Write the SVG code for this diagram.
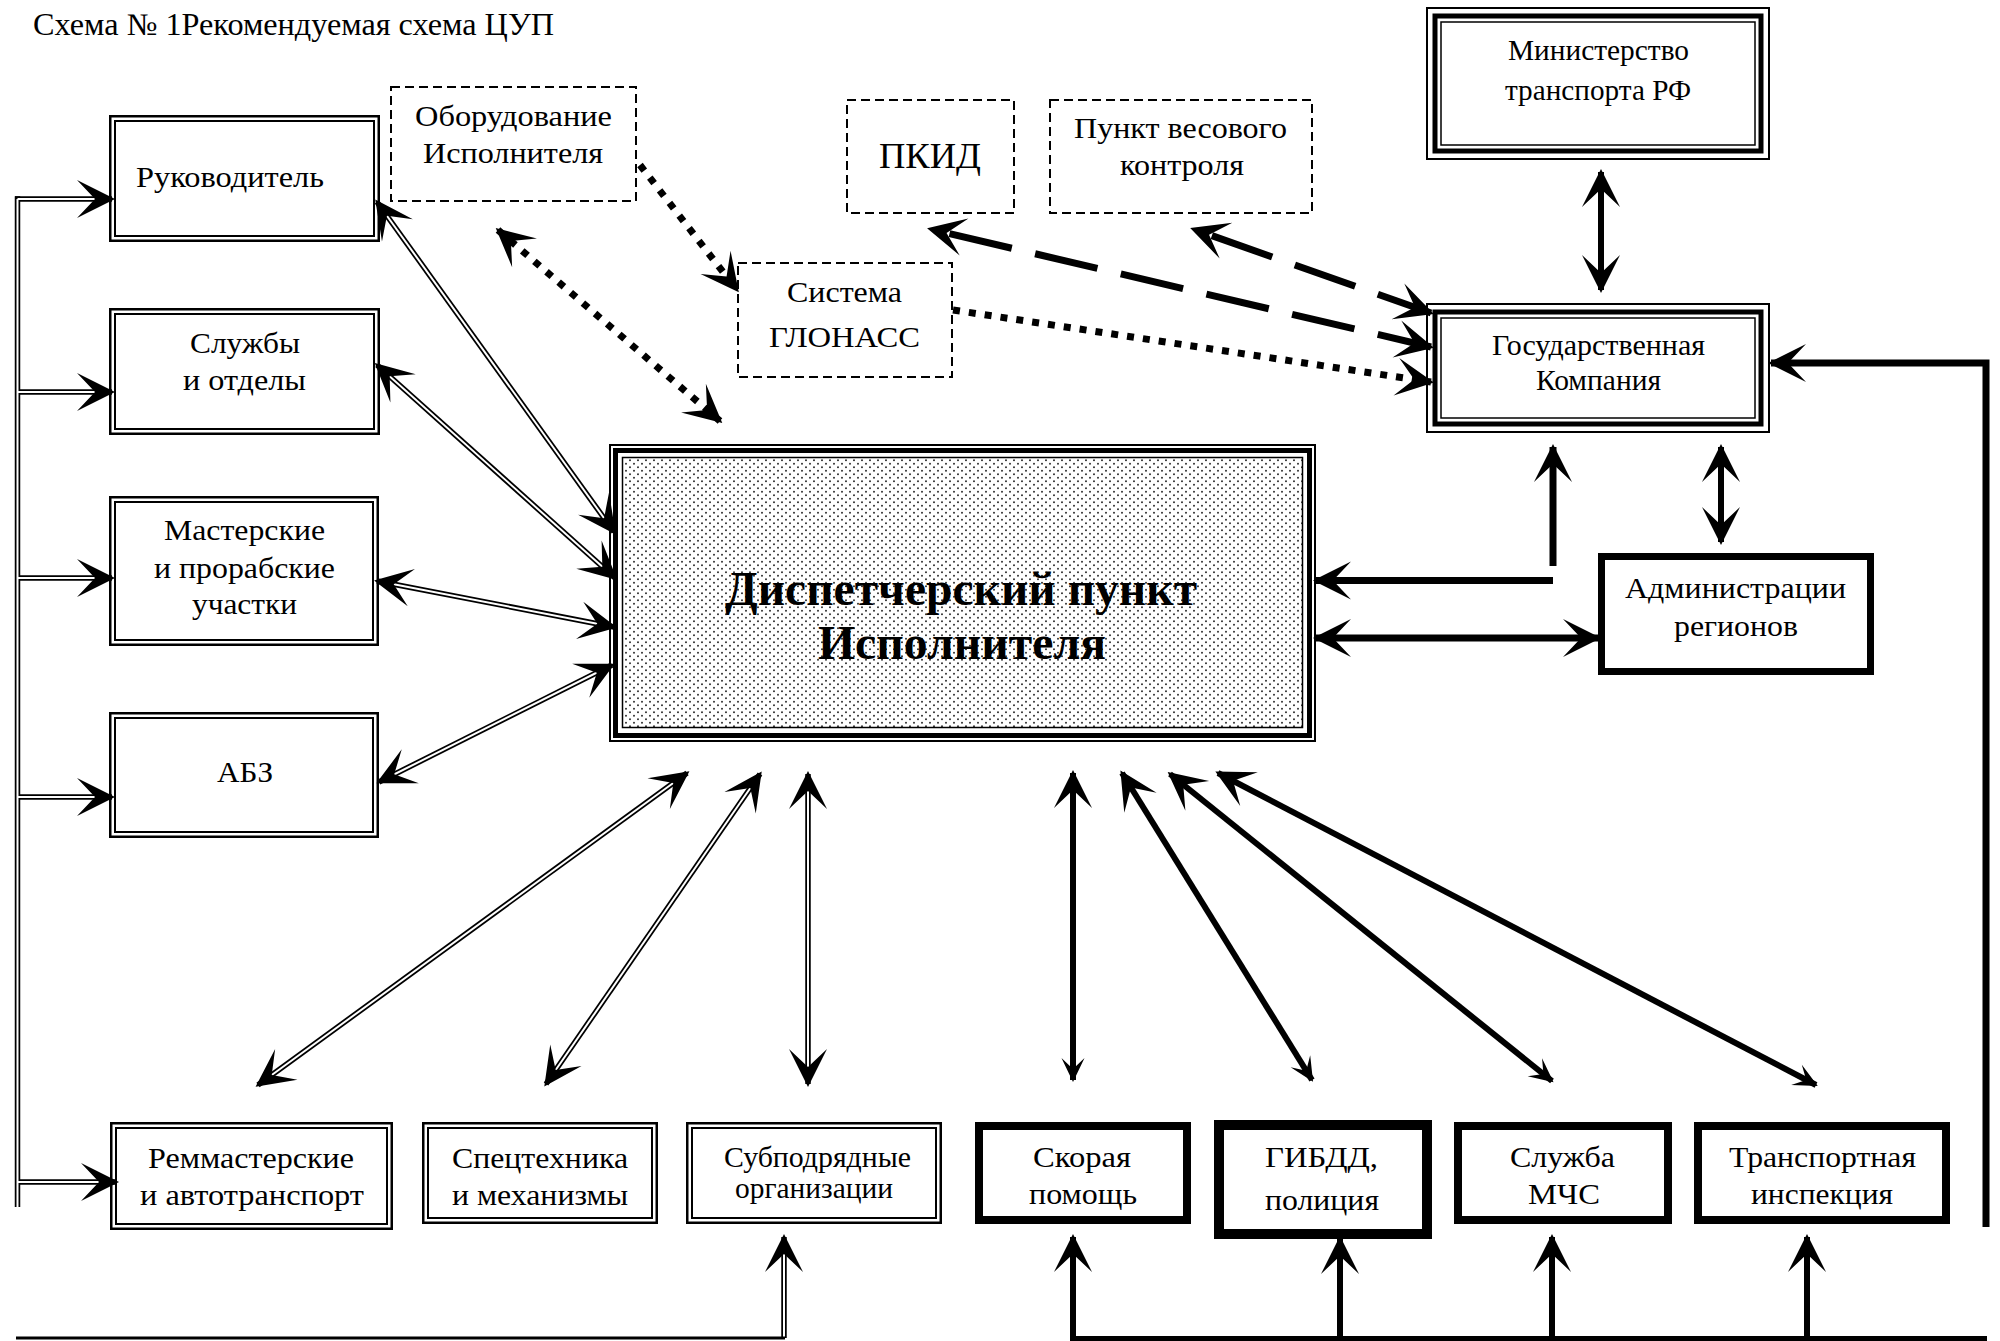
<svg xmlns="http://www.w3.org/2000/svg" width="2000" height="1341" viewBox="0 0 2000 1341">
<defs>
<style>
text { font-family: "Liberation Serif", "Times New Roman", serif; fill:#000; }
.t { font-size:30px; text-anchor:middle; }
.b2o { fill:#fff; stroke:#000; stroke-width:2.5; }
.b2i { fill:none; stroke:#000; stroke-width:2; }
.dsh { fill:#fff; stroke:#000; stroke-width:2; stroke-dasharray:9 5; }
.thk { fill:#fff; stroke:#000; stroke-width:8; }
.tb1 { fill:#fff; stroke:#000; stroke-width:2; }
.tb2 { fill:none; stroke:#000; stroke-width:5; }
.tb3 { fill:none; stroke:#000; stroke-width:1.5; }
.dbk { fill:none; stroke:#000; stroke-width:5.5; }
.dwh { fill:none; stroke:#fff; stroke-width:2; }
.sol { fill:none; stroke:#000; stroke-width:6; }
.sol7 { fill:none; stroke:#000; stroke-width:7; }
.dot { fill:none; stroke:#000; stroke-width:7; stroke-dasharray:7 9; }
.lds { fill:none; stroke:#000; stroke-width:7; stroke-dasharray:64 24; stroke-dashoffset:-20; }
</style>
<pattern id="dots" width="8" height="7" patternUnits="userSpaceOnUse">
<rect width="8" height="7" fill="#fff"/>
<circle cx="2" cy="1.75" r="0.95" fill="#222"/>
<circle cx="6" cy="5.25" r="0.95" fill="#222"/>
</pattern>
<marker id="ah" viewBox="-40 -25 50 50" markerWidth="50" markerHeight="50" refX="0" refY="0" markerUnits="userSpaceOnUse" orient="auto-start-reverse">
<path d="M3,0 L-35,-19 L-17,0 L-35,19 Z" fill="#000"/>
</marker>
<marker id="ahs" viewBox="-30 -15 40 30" markerWidth="40" markerHeight="30" refX="0" refY="0" markerUnits="userSpaceOnUse" orient="auto-start-reverse">
<path d="M2,0 L-22,-11.5 L-11,0 L-22,11.5 Z" fill="#000"/>
</marker>
</defs>
<rect width="2000" height="1341" fill="#fff"/>

<text x="33" y="35" font-size="31" textLength="521" lengthAdjust="spacingAndGlyphs">Схема № 1Рекомендуемая схема ЦУП</text>

<g id="nodes">
<g id="rukovoditel">
<rect class="b2o" x="110.25" y="116.25" width="268.5" height="124.5"/>
<rect class="b2i" x="115" y="121" width="259" height="115"/>
<text class="t" x="230" y="187" textLength="188" lengthAdjust="spacingAndGlyphs">Руководитель</text>
</g>
<g id="sluzhby">
<rect class="b2o" x="110.25" y="309.25" width="268.5" height="124.5"/>
<rect class="b2i" x="115" y="314" width="259" height="115"/>
<text class="t" x="245" y="353" textLength="110" lengthAdjust="spacingAndGlyphs">Службы</text>
<text class="t" x="244.5" y="390" textLength="123" lengthAdjust="spacingAndGlyphs">и отделы</text>
</g>
<g id="masterskie">
<rect class="b2o" x="110.25" y="497.25" width="267.5" height="147.5"/>
<rect class="b2i" x="115" y="502" width="258" height="138"/>
<text class="t" x="244.5" y="540" textLength="161" lengthAdjust="spacingAndGlyphs">Мастерские</text>
<text class="t" x="244.5" y="578" textLength="181" lengthAdjust="spacingAndGlyphs">и прорабские</text>
<text class="t" x="244.5" y="614" textLength="105" lengthAdjust="spacingAndGlyphs">участки</text>
</g>
<g id="abz">
<rect class="b2o" x="110.25" y="713.25" width="267.5" height="123.5"/>
<rect class="b2i" x="115" y="718" width="258" height="114"/>
<text class="t" x="245" y="782" textLength="56" lengthAdjust="spacingAndGlyphs">АБЗ</text>
</g>
<g id="oborudovanie">
<rect class="dsh" x="391" y="87" width="245" height="114"/>
<text class="t" x="513.5" y="126" textLength="197" lengthAdjust="spacingAndGlyphs">Оборудование</text>
<text class="t" x="513" y="163" textLength="180" lengthAdjust="spacingAndGlyphs">Исполнителя</text>
</g>
<g id="pkid">
<rect class="dsh" x="847" y="100" width="167" height="113"/>
<text class="t" x="930" y="168" style="font-size:35px" textLength="102" lengthAdjust="spacingAndGlyphs">ПКИД</text>
</g>
<g id="punkt">
<rect class="dsh" x="1050" y="100" width="262" height="113"/>
<text class="t" x="1180.5" y="138" textLength="213" lengthAdjust="spacingAndGlyphs">Пункт весового</text>
<text class="t" x="1182" y="175" textLength="124" lengthAdjust="spacingAndGlyphs">контроля</text>
</g>
<g id="glonass">
<rect class="dsh" x="738" y="263" width="214" height="114"/>
<text class="t" x="844.5" y="302" textLength="115" lengthAdjust="spacingAndGlyphs">Система</text>
<text class="t" x="844.5" y="347" textLength="151" lengthAdjust="spacingAndGlyphs">ГЛОНАСС</text>
</g>
<g id="ministerstvo">
<rect class="tb1" x="1427" y="8" width="342" height="151"/>
<rect class="tb2" x="1435" y="16" width="326" height="135"/>
<rect class="tb3" x="1441" y="22" width="314" height="123"/>
<text class="t" x="1598.5" y="60" textLength="181" lengthAdjust="spacingAndGlyphs">Министерство</text>
<text class="t" x="1598" y="100" textLength="186" lengthAdjust="spacingAndGlyphs">транспорта РФ</text>
</g>
<g id="goskompaniya">
<rect class="tb1" x="1427" y="304" width="342" height="128"/>
<rect class="tb2" x="1435" y="312" width="326" height="112"/>
<rect class="tb3" x="1441" y="318" width="314" height="100"/>
<text class="t" x="1598.5" y="355" textLength="213" lengthAdjust="spacingAndGlyphs">Государственная</text>
<text class="t" x="1598.5" y="390" textLength="125" lengthAdjust="spacingAndGlyphs">Компания</text>
</g>
<g id="dispetcher">
<rect class="tb1" x="610" y="445" width="705" height="296"/>
<rect class="tb2" x="615.5" y="450.5" width="694" height="285"/>
<rect x="622.5" y="457.5" width="680" height="270" fill="url(#dots)" stroke="#000" stroke-width="1.5"/>
<text class="t" x="961" y="605" style="font-size:48px;font-weight:bold" textLength="472" lengthAdjust="spacingAndGlyphs">Диспетчерский пункт</text>
<text class="t" x="962" y="659" style="font-size:48px;font-weight:bold" textLength="288" lengthAdjust="spacingAndGlyphs">Исполнителя</text>
</g>
<g id="administratsii">
<rect class="thk" style="stroke-width:7" x="1601.5" y="556.5" width="269" height="115"/>
<text class="t" x="1735.5" y="598" textLength="221" lengthAdjust="spacingAndGlyphs">Администрации</text>
<text class="t" x="1736" y="636" textLength="124" lengthAdjust="spacingAndGlyphs">регионов</text>
</g>
<g id="remmasterskie">
<rect class="b2o" x="111.25" y="1123.25" width="280.5" height="105.5"/>
<rect class="b2i" x="116" y="1128" width="271" height="96"/>
<text class="t" x="251" y="1168" textLength="206" lengthAdjust="spacingAndGlyphs">Реммастерские</text>
<text class="t" x="252" y="1205" textLength="224" lengthAdjust="spacingAndGlyphs">и автотранспорт</text>
</g>
<g id="spetstekhnika">
<rect class="b2o" x="423.25" y="1123.25" width="233.5" height="99.5"/>
<rect class="b2i" x="428" y="1128" width="224" height="90"/>
<text class="t" x="540" y="1168" textLength="176" lengthAdjust="spacingAndGlyphs">Спецтехника</text>
<text class="t" x="540" y="1205" textLength="176" lengthAdjust="spacingAndGlyphs">и механизмы</text>
</g>
<g id="subpodryadnye">
<rect class="b2o" x="687.25" y="1123.25" width="253.5" height="99.5"/>
<rect class="b2i" x="692" y="1128" width="244" height="90"/>
<text class="t" x="817.5" y="1167" textLength="187" lengthAdjust="spacingAndGlyphs">Субподрядные</text>
<text class="t" x="814" y="1198" textLength="158" lengthAdjust="spacingAndGlyphs">организации</text>
</g>
<g id="skoraya">
<rect class="thk" x="979" y="1126" width="208" height="94"/>
<text class="t" x="1082" y="1167" textLength="98" lengthAdjust="spacingAndGlyphs">Скорая</text>
<text class="t" x="1083" y="1204" textLength="108" lengthAdjust="spacingAndGlyphs">помощь</text>
</g>
<g id="gibdd">
<rect class="thk" style="stroke-width:10" x="1219" y="1125" width="208" height="109"/>
<text class="t" x="1321.5" y="1167" textLength="113" lengthAdjust="spacingAndGlyphs">ГИБДД,</text>
<text class="t" x="1322" y="1210" textLength="114" lengthAdjust="spacingAndGlyphs">полиция</text>
</g>
<g id="mchs">
<rect class="thk" x="1458" y="1126" width="210" height="94"/>
<text class="t" x="1562.5" y="1167" textLength="105" lengthAdjust="spacingAndGlyphs">Служба</text>
<text class="t" x="1564" y="1204" textLength="72" lengthAdjust="spacingAndGlyphs">МЧС</text>
</g>
<g id="transport">
<rect class="thk" x="1698" y="1126" width="248" height="94"/>
<text class="t" x="1822.5" y="1167" textLength="187" lengthAdjust="spacingAndGlyphs">Транспортная</text>
<text class="t" x="1822" y="1204" textLength="142" lengthAdjust="spacingAndGlyphs">инспекция</text>
</g>
</g>

<g id="connectors">
<path class="dbk" d="M17.5,196.25 L17.5,1207"/>
<path class="dbk" d="M15,199 L112,199 M15,392 L112,392 M15,578 L112,578 M15,797 L112,797 M15,1182 L116,1182"/>
<path class="dbk" d="M377,202 L614,532"/>
<path class="dbk" d="M377,365 L615,578"/>
<path class="dbk" d="M377,581 L614,627"/>
<path class="dbk" d="M379,782 L612,665"/>
<path class="dbk" d="M687,773 L258,1085"/>
<path class="dbk" d="M760,774 L546,1084"/>
<path class="dbk" d="M808,774 L808,1084"/>
<path class="dbk" d="M784,1338 L784,1237"/>
<path class="dwh" d="M17.5,199 L17.5,1207"/>
<path class="dwh" d="M17.5,199 L112,199" marker-end="url(#ah)"/>
<path class="dwh" d="M17.5,392 L112,392" marker-end="url(#ah)"/>
<path class="dwh" d="M17.5,578 L112,578" marker-end="url(#ah)"/>
<path class="dwh" d="M17.5,797 L112,797" marker-end="url(#ah)"/>
<path class="dwh" d="M17.5,1182 L116,1182" marker-end="url(#ah)"/>
<path class="dwh" d="M377,202 L614,532" marker-start="url(#ah)" marker-end="url(#ah)"/>
<path class="dwh" d="M377,365 L615,578" marker-start="url(#ah)" marker-end="url(#ah)"/>
<path class="dwh" d="M377,581 L614,627" marker-start="url(#ah)" marker-end="url(#ah)"/>
<path class="dwh" d="M379,782 L612,665" marker-start="url(#ah)" marker-end="url(#ah)"/>
<path class="dwh" d="M687,773 L258,1085" marker-start="url(#ah)" marker-end="url(#ah)"/>
<path class="dwh" d="M760,774 L546,1084" marker-start="url(#ah)" marker-end="url(#ah)"/>
<path class="dwh" d="M808,774 L808,1084" marker-start="url(#ah)" marker-end="url(#ah)"/>
<path class="dwh" d="M784,1338 L784,1237" marker-end="url(#ah)"/>
<path d="M16,1338 L785,1338" fill="none" stroke="#000" stroke-width="3"/>

<path class="sol" d="M1073,773 L1073,1080" marker-start="url(#ah)" marker-end="url(#ahs)"/>
<path class="sol" d="M1122,773 L1312,1080" marker-start="url(#ah)" marker-end="url(#ahs)"/>
<path class="sol" d="M1170,774 L1552,1081" marker-start="url(#ah)" marker-end="url(#ahs)"/>
<path class="sol" d="M1218,773 L1816,1085" marker-start="url(#ah)" marker-end="url(#ahs)"/>
<path class="sol" d="M1601,172 L1601,290" marker-start="url(#ah)" marker-end="url(#ah)"/>
<path class="sol" d="M1721,447 L1721,542" marker-start="url(#ah)" marker-end="url(#ah)"/>
<path class="sol7" d="M1553,566 L1553,447" marker-end="url(#ah)"/>
<path class="sol7" d="M1553,580.5 L1316,580.5" marker-end="url(#ah)"/>
<path class="sol7" d="M1316,638 L1598,638" marker-start="url(#ah)" marker-end="url(#ah)"/>
<path class="sol7" d="M1986,1227 L1986,363 L1771,363" marker-end="url(#ah)"/>
<path d="M1070,1338.5 L1987,1338.5" fill="none" stroke="#000" stroke-width="5"/>
<path class="sol" d="M1073,1339 L1073,1237" marker-end="url(#ah)"/>
<path class="sol" d="M1340,1339 L1340,1239" marker-end="url(#ah)"/>
<path class="sol" d="M1552,1339 L1552,1237" marker-end="url(#ah)"/>
<path class="sol" d="M1807,1339 L1807,1237" marker-end="url(#ah)"/>

<path class="dot" d="M498,230 L720,421" marker-start="url(#ah)" marker-end="url(#ah)"/>
<path class="dot" d="M640,165 L737,290" marker-end="url(#ah)"/>
<path class="dot" d="M953,310 L1431,382" marker-end="url(#ah)"/>

<path class="lds" d="M930,229 L1431,347" marker-start="url(#ah)" marker-end="url(#ah)"/>
<path class="lds" d="M1193,229 L1431,313" marker-start="url(#ah)" marker-end="url(#ah)"/>
</g>
</svg>
